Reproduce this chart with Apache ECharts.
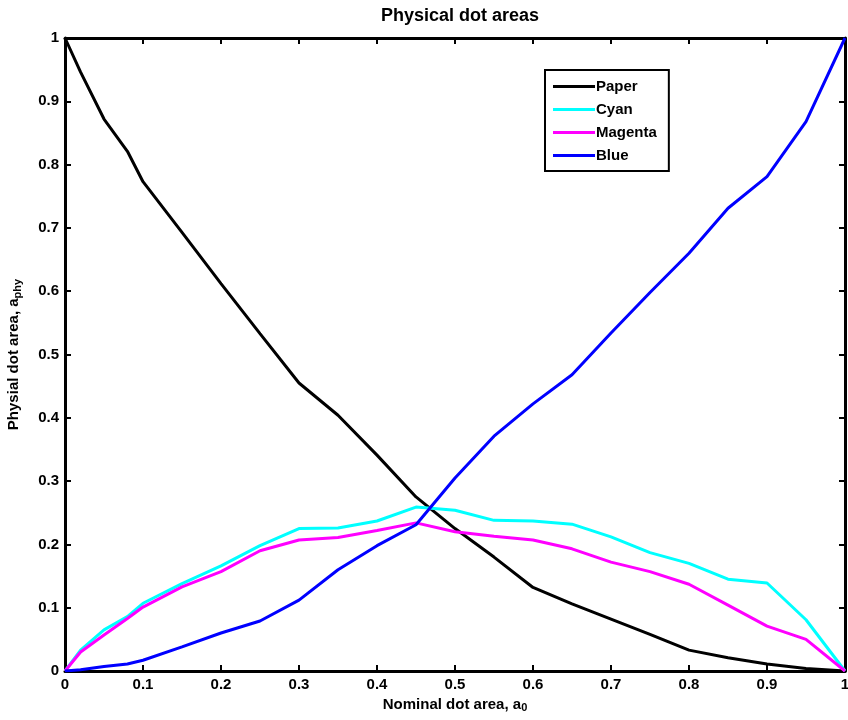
<!DOCTYPE html>
<html lang="en">
<head>
    <meta charset="UTF-8">
    <title>Physical dot areas</title>
    <style>
        html, body { margin: 0; padding: 0; background: #fff; }
    </style>
</head>
<body>
<div id="container" style="width: 848px; height: 720px"></div>
<script type="text/javascript" src="https://cdn.jsdelivr.net/npm/echarts@6/dist/echarts.min.js"></script>
<script type="text/javascript">
    // nominal dot area (x) and measured physical dot areas per ink
    var nominal = [0, 0.02, 0.05, 0.08, 0.1, 0.15, 0.2, 0.25, 0.3, 0.35, 0.4, 0.45, 0.5,
        0.55, 0.6, 0.65, 0.7, 0.75, 0.8, 0.85, 0.9, 0.95, 1];
    var paper = [1, 0.946, 0.872, 0.821, 0.773, 0.693, 0.612, 0.533, 0.455, 0.404, 0.341, 0.275, 0.225,
        0.18, 0.132, 0.106, 0.082, 0.058, 0.033, 0.021, 0.011, 0.004, 0];
    var cyan = [0, 0.033, 0.065, 0.086, 0.107, 0.138, 0.166, 0.198, 0.225, 0.226, 0.237, 0.259, 0.254,
        0.238, 0.237, 0.232, 0.212, 0.187, 0.17, 0.145, 0.139, 0.081, 0];
    var magenta = [0, 0.03, 0.057, 0.083, 0.101, 0.133, 0.157, 0.19, 0.207, 0.211, 0.222, 0.234, 0.22,
        0.213, 0.207, 0.193, 0.172, 0.157, 0.137, 0.104, 0.071, 0.05, 0];
    var blue = [0, 0.002, 0.007, 0.011, 0.017, 0.038, 0.06, 0.079, 0.112, 0.16, 0.198, 0.231, 0.305,
        0.371, 0.422, 0.468, 0.534, 0.598, 0.66, 0.731, 0.781, 0.868, 1];
    var seriesNames = ['Paper', 'Cyan', 'Magenta', 'Blue'];
    var seriesColors = ['#000000', '#00ffff', '#ff00ff', '#0000ff'];

    var font = 'Liberation Sans, Arial, sans-serif';

    function pairs(ys) {
        return nominal.map(function (x, i) { return [x, ys[i]]; });
    }

    var allValues = [paper, cyan, magenta, blue];
    var series = seriesNames.map(function (name, i) {
        return {
            name: name,
            type: 'line',
            data: pairs(allValues[i]),
            symbol: 'none',
            lineStyle: {color: seriesColors[i], width: 3},
            itemStyle: {color: seriesColors[i]},
            z: 2 + i
        };
    });

    var boxLine = {show: true, onZero: false, lineStyle: {color: '#000', width: 3}};
    var inTick = {show: true, inside: true, length: 6, lineStyle: {color: '#000', width: 2}};
    var tickLabel = {color: '#000', fontFamily: font, fontWeight: 'bold', fontSize: 15};

    option = {
        animation: false,
        title: {
            text: 'Physical dot areas',
            left: 455,
            textAlign: 'center',
            top: 2,
            textStyle: {fontFamily: font, fontWeight: 'bold', fontSize: 18, color: '#000'}
        },
        legend: {
            orient: 'vertical',
            left: 545,
            top: 70,
            data: seriesNames,
            icon: 'rect',
            itemWidth: 42,
            itemHeight: 3,
            itemGap: 8,
            padding: [9, 12, 8, 8],
            borderColor: '#000',
            borderWidth: 2,
            backgroundColor: '#fff',
            textStyle: {fontFamily: font, fontWeight: 'bold', fontSize: 15, color: '#000', padding: [0, 0, 0, -4]}
        },
        grid: {left: 65, right: 3, top: 38, bottom: 49, containLabel: false, outerBoundsMode: 'none'},
        xAxis: [
            {
                type: 'value', min: 0, max: 1, interval: 0.1,
                axisLine: boxLine, axisTick: inTick, splitLine: {show: false},
                axisLabel: Object.assign({margin: 6}, tickLabel),
                name: 'Nominal dot area, a{sub|0}',
                nameLocation: 'middle',
                nameGap: 20,
                nameTextStyle: {
                    fontFamily: font, fontWeight: 'bold', fontSize: 15, color: '#000',
                    rich: {sub: {fontFamily: font, fontWeight: 'bold', fontSize: 11, color: '#000', verticalAlign: 'bottom', padding: [8, 0, 0, 0]}}
                }
            },
            {
                type: 'value', min: 0, max: 1, interval: 0.1, position: 'top',
                axisLine: boxLine, axisTick: inTick, splitLine: {show: false},
                axisLabel: {show: false}
            }
        ],
        yAxis: [
            {
                type: 'value', min: 0, max: 1, interval: 0.1,
                axisLine: boxLine, axisTick: inTick, splitLine: {show: false},
                axisLabel: Object.assign({margin: 6}, tickLabel),
                name: 'Physial dot area, a{sub|phy}',
                nameLocation: 'middle',
                nameGap: 42,
                nameTextStyle: {
                    fontFamily: font, fontWeight: 'bold', fontSize: 15, color: '#000',
                    rich: {sub: {fontFamily: font, fontWeight: 'bold', fontSize: 11, color: '#000', verticalAlign: 'bottom', padding: [8, 0, 0, 0]}}
                }
            },
            {
                type: 'value', min: 0, max: 1, interval: 0.1, position: 'right',
                axisLine: boxLine, axisTick: inTick, splitLine: {show: false},
                axisLabel: {show: false}
            }
        ],
        series: series
    };

    var myChart = echarts.init(document.getElementById('container'));
    myChart.setOption(option);
</script>
</body>
</html>
